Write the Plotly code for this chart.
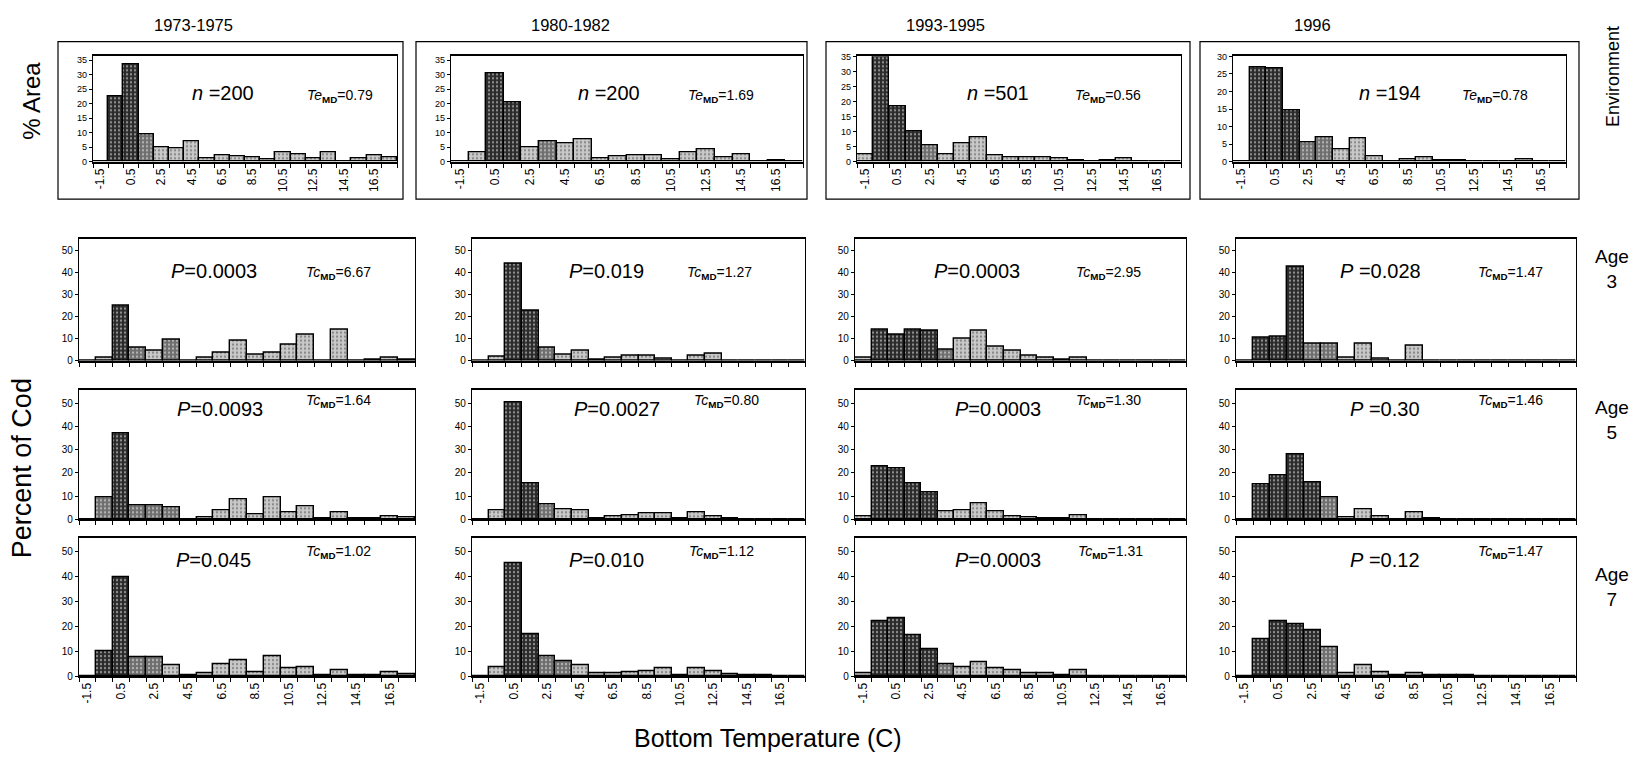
import plotly.graph_objects as go

W, H = 1639, 763
OFF = 8                      # page body margin of the exported html
FW, FH = W - 2 * OFF, H - 2 * OFF

# ---------------- data ----------------
bins = [-1.5, -0.5, 0.5, 1.5, 2.5, 3.5, 4.5, 5.5, 6.5, 7.5, 8.5, 9.5,
        10.5, 11.5, 12.5, 13.5, 14.5, 15.5, 16.5, 17.5]
tick_labels = ["-1.5", "0.5", "2.5", "4.5", "6.5", "8.5", "10.5", "12.5", "14.5", "16.5"]
col_titles = ["1973-1975", "1980-1982", "1993-1995", "1996"]
row_labels = ["Environment", "Age<br>3", "Age<br>5", "Age<br>7"]

env_1973 = [0, 22.5, 33.5, 9.5, 4.8, 4.5, 7, 1.2, 2.2, 2, 1.5, 1, 3.3, 2.5, 1.3, 3.3, 0, 1.2, 2.2, 1.5]
env_1980 = [0, 3.3, 30.5, 20.3, 4.8, 7, 6.5, 7.8, 1.2, 1.8, 2.2, 2.2, 0.8, 3.3, 4.3, 1.5, 2.5, 0, 0.5, 0]
env_1993 = [2.5, 35, 18.5, 10, 5.5, 2.5, 6, 8, 2, 1.5, 1.5, 1.5, 1.3, 0.6, 0, 0.5, 1, 0, 0, 0]
env_1996 = [0, 27, 26.5, 14.5, 5.5, 7, 3.5, 6.8, 1.5, 0.2, 0.6, 1.2, 0.3, 0.5, 0.2, 0.2, 0.1, 0.7, 0, 0]

age3_1973 = [0, 1.5, 25, 6, 4.5, 9.5, 0, 1.5, 3.5, 9, 3, 3.5, 7.5, 12, 0, 14, 0, 0.5, 1.5, 0.5]
age3_1980 = [0, 2, 44, 23, 6, 3, 4.5, 0.5, 1.5, 2.5, 2.3, 1.2, 0.3, 2.3, 3.3, 0.3, 0, 0, 0, 0]
age3_1993 = [1.3, 14, 12, 14, 13.5, 5, 10, 13.5, 6.5, 4.5, 2.5, 1.5, 0.5, 1.5, 0.2, 0.2, 0, 0, 0, 0]
age3_1996 = [0, 10.5, 11, 43, 8, 8, 1.5, 8, 0.8, 0, 7, 0.3, 0.3, 0.2, 0, 0, 0, 0, 0, 0]

age5_1973 = [0, 9.5, 37, 6, 6, 5, 0, 1, 4, 8.8, 2, 9.5, 3, 5.5, 0.5, 3, 0.3, 0.3, 1.5, 0.8]
age5_1980 = [0, 4, 50.5, 15.5, 6.5, 4.5, 4, 0.3, 1.3, 1.8, 2.5, 2.8, 0.3, 3, 1.5, 0.3, 0, 0, 0, 0]
age5_1993 = [1.5, 23, 22, 15.5, 11.5, 3.5, 4, 6.8, 3.5, 1.5, 1, 0.5, 0.3, 1.8, 0, 0, 0, 0, 0, 0]
age5_1996 = [0, 15, 19, 28, 16, 9.5, 0.8, 4.5, 1.5, 0, 3, 0.3, 0.2, 0, 0, 0, 0, 0, 0, 0]

age7_1973 = [0, 10, 40, 7.5, 7.5, 4.5, 0.5, 1, 5, 6.5, 1.5, 8, 3, 3.5, 0.5, 2.5, 0.3, 0.3, 1.5, 0.8]
age7_1980 = [0, 3.5, 45.5, 17, 8, 6, 4.5, 1, 1, 1.5, 2, 3, 0.5, 3, 1.8, 0.8, 0.2, 0.2, 0, 0]
age7_1993 = [1.3, 22, 23.5, 16.5, 11, 5, 3.5, 5.5, 3, 2.3, 1.3, 1, 0.3, 2.2, 0, 0, 0, 0, 0, 0]
age7_1996 = [0, 15, 22, 21, 18.5, 11.5, 1.3, 4.5, 1.5, 0.2, 1, 0.3, 0.3, 0.2, 0, 0, 0, 0, 0, 0]

env_n = ["200", "200", "501", "194"]
env_te = ["0.79", "1.69", "0.56", "0.78"]
age3_p = ["0.0003", "0.019", "0.0003", "0.028"]
age5_p = ["0.0093", "0.0027", "0.0003", "0.30"]
age7_p = ["0.045", "0.010", "0.0003", "0.12"]
age3_tc = ["6.67", "1.27", "2.95", "1.47"]
age5_tc = ["1.64", "0.80", "1.30", "1.46"]
age7_tc = ["1.02", "1.12", "1.31", "1.47"]

grid = [
    [env_1973, env_1980, env_1993, env_1996],
    [age3_1973, age3_1980, age3_1993, age3_1996],
    [age5_1973, age5_1980, age5_1993, age5_1996],
    [age7_1973, age7_1980, age7_1993, age7_1996],
]

# ---------------- layout geometry (screen pixels) ----------------
FONT = "Liberation Sans, Arial, sans-serif"
row_y = [(52, 159), (237, 361), (391, 522), (541, 681)]
col_x_top = [(93, 397), (451, 803), (857, 1181), (1233, 1566)]
col_x_low = [(79, 415), (472, 805), (855, 1186), (1236, 1576)]
top_ymax = [36.3, 36.3, 35, 30]
outer_boxes = [(58, 403), (416, 807), (826, 1190), (1200, 1579)]
box_y = (37, 197)

def fx(px):
    return (px - OFF) / FW

def fy(py):
    return 1 - (py - OFF) / FH

def shade(x, v):
    if x <= 2.5 and v >= 10:
        return "#2a2a2a"
    if x <= 3.5 and v >= 5:
        return "#6e6e6e"
    return "#c9c9c9"

def dotc(x, v):
    return "#bbbbbb" if shade(x, v) != "#c9c9c9" else "#555555"

def note(text, px, py, size, angle=0):
    return dict(text=text, x=fx(px), y=fy(py), xref="paper", yref="paper",
                xanchor="center", yanchor="middle", showarrow=False, textangle=angle,
                font=dict(size=size, family=FONT, color="black"))

fig = go.Figure()
layout = dict(width=FW, height=FH, margin=dict(l=0, r=0, t=0, b=0), autosize=False,
              plot_bgcolor="white", paper_bgcolor="white", showlegend=False,
              bargap=0, font=dict(family=FONT, color="black"))
annotations = []
shapes = []

k = 0
for r in range(4):
    for c in range(4):
        k += 1
        xa = "x" if k == 1 else f"x{k}"
        ya = "y" if k == 1 else f"y{k}"
        vals = grid[r][c]
        colors = [shade(b, v) for b, v in zip(bins, vals)]
        dots = [dotc(b, v) for b, v in zip(bins, vals)]
        fig.add_trace(go.Bar(
            x=bins, y=vals, width=1, xaxis=xa, yaxis=ya,
            marker=dict(color=colors, line=dict(color="black", width=1.4),
                        pattern=dict(shape=".", fillmode="overlay", fgcolor=dots,
                                     size=4, solidity=0.25)),
            hoverinfo="x+y"))
        xr = col_x_top[c] if r == 0 else col_x_low[c]
        yr = row_y[r]
        show_lbl = r in (0, 3)
        layout["xaxis" if k == 1 else f"xaxis{k}"] = dict(
            domain=[fx(xr[0]), fx(xr[1])], anchor=ya, range=[-2, 18],
            tickmode="array", tickvals=bins[::2], ticktext=tick_labels,
            tickangle=-90, ticks="", showticklabels=show_lbl,
            tickfont=dict(size=12, family=FONT, color="black"),
            showline=True, linecolor="black", linewidth=2, mirror=True,
            showgrid=False, zeroline=False, fixedrange=True,
            minor=dict(tickmode="linear", tick0=-2, dtick=1, ticks="outside",
                       ticklen=4, tickwidth=1, tickcolor="black", showgrid=False))
        if r == 0:
            ymax, dt, tsz = top_ymax[c], 5, 9
        else:
            ymax, dt, tsz = 55.5, 10, 10
        layout["yaxis" if k == 1 else f"yaxis{k}"] = dict(
            domain=[fy(yr[1]), fy(yr[0])], anchor=xa, range=[0, ymax],
            tickmode="linear", tick0=0, dtick=dt, ticks="outside", ticklen=3,
            tickwidth=1, tickcolor="black",
            tickfont=dict(size=tsz, family=FONT, color="black"),
            showline=True, linecolor="black", linewidth=1.2, mirror=True,
            showgrid=False, zeroline=False, fixedrange=True)

# outer boxes around the environment panels
for (x0, x1) in outer_boxes:
    shapes.append(dict(type="rect", xref="paper", yref="paper",
                       x0=fx(x0), x1=fx(x1), y0=fy(box_y[1]), y1=fy(box_y[0]),
                       line=dict(color="black", width=1.2)))

# column titles
for t, cx in zip(col_titles, [193, 570, 946, 1312]):
    annotations.append(note(t, cx, 20, 16.5))

# row labels on the right
for t, cy in zip(row_labels, [73, 268, 421, 591]):
    if t == "Environment":
        annotations.append(note(t, 1613, cy, 18, -90))
    else:
        annotations.append(note(t, 1612, cy, 19))

# axis titles
annotations.append(note("% Area", 32, 97, 24, -90))
annotations.append(note("Percent of Cod", 22, 470, 27, -90))
annotations.append(note("Bottom Temperature (C)", 768, 744, 25))

# in-panel statistics (centres, screen pixels)
big_x = [[223, 609, 998, 1390], [214, 606, 977, 1380], [220, 617, 998, 1385], [214, 606, 998, 1385]]
small_x = [[340, 721, 1108, 1495], [338, 719, 1108, 1510], [338, 726, 1108, 1510], [338, 721, 1110, 1510]]
big_y = [89, 270, 410, 563]
small_y = [92, 272, 402, 555]
for c in range(4):
    annotations.append(note(f"<i>n</i> ={env_n[c]}", big_x[0][c], big_y[0], 20))
    annotations.append(note(f"<i>Te</i><sub><b>MD</b></sub>={env_te[c]}",
                            small_x[0][c], small_y[0], 14))
for r, (plist, tclist) in enumerate([(age3_p, age3_tc), (age5_p, age5_tc), (age7_p, age7_tc)], start=1):
    for c in range(4):
        sep = " =" if c == 3 else "="
        annotations.append(note(f"<i>P</i>{sep}{plist[c]}", big_x[r][c], big_y[r], 20))
        annotations.append(note(f"<i>Tc</i><sub><b>MD</b></sub>={tclist[c]}",
                                small_x[r][c], small_y[r], 14))

layout["annotations"] = annotations
layout["shapes"] = shapes
fig.update_layout(**layout)
fig.write_html("out.html")
